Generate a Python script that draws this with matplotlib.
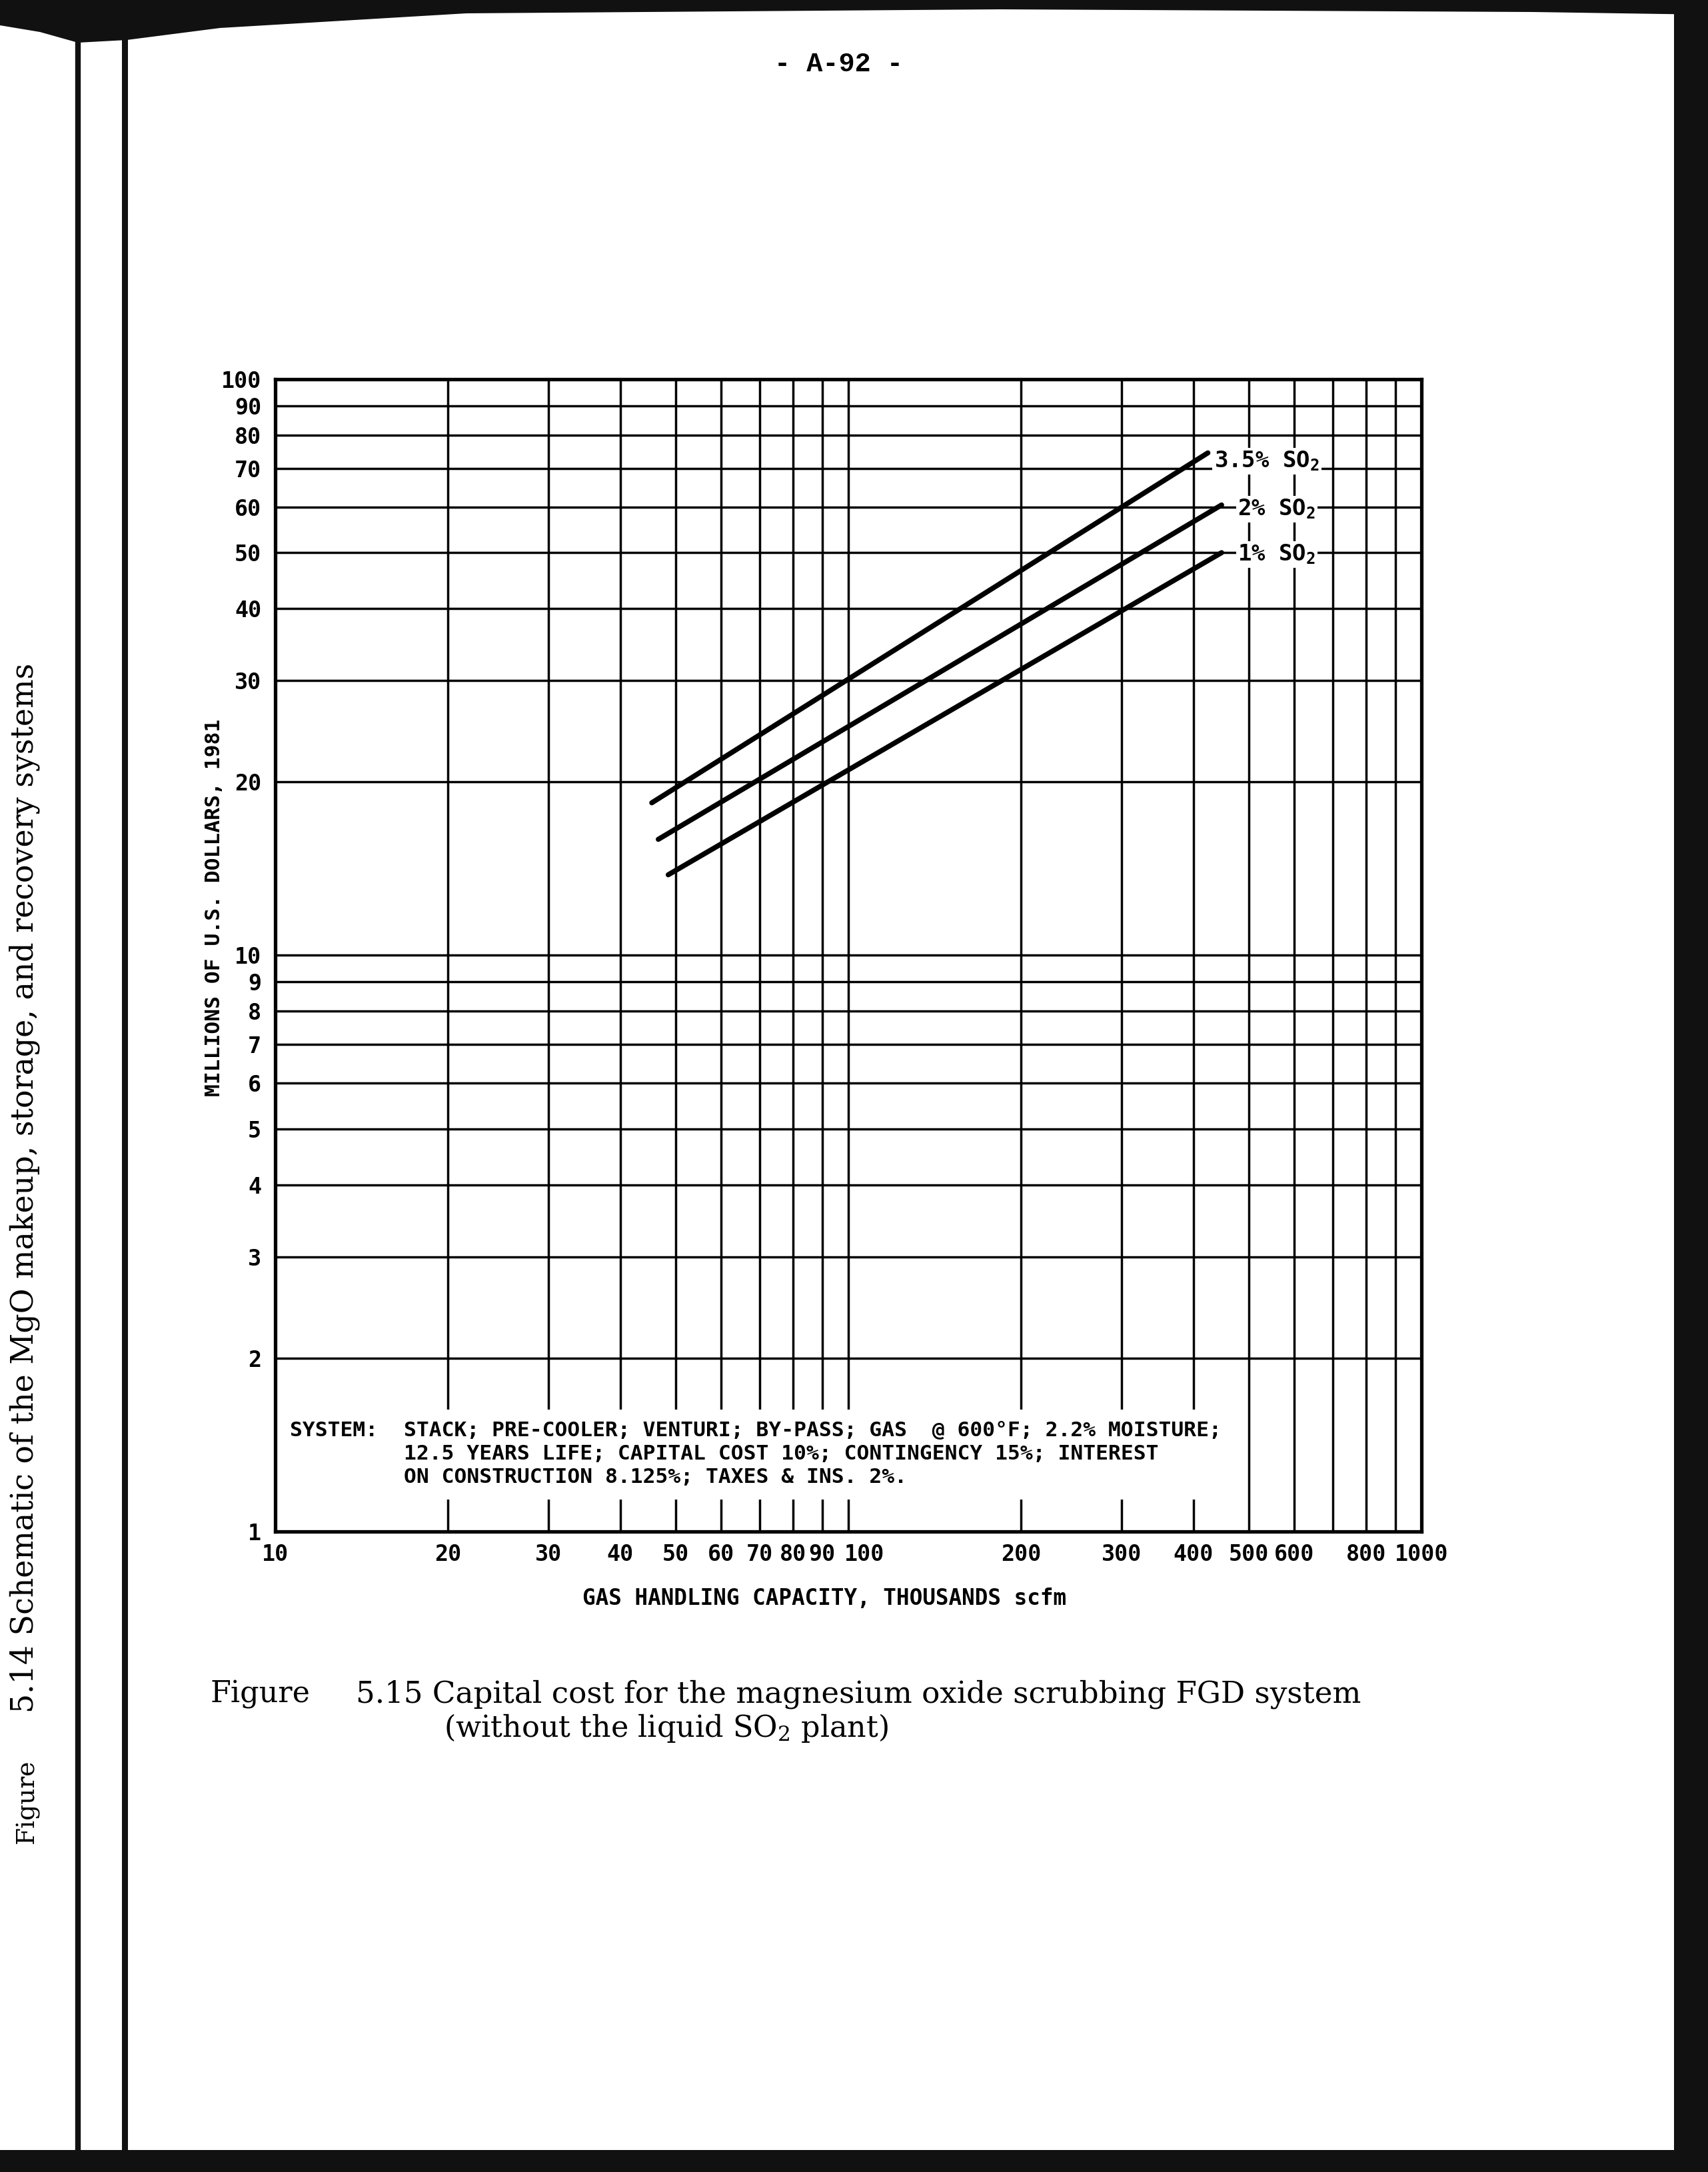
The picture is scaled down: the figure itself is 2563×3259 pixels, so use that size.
import numpy as np
import matplotlib
matplotlib.use('Agg')
import matplotlib.pyplot as plt
import matplotlib.transforms as mtransforms
from matplotlib.patches import Rectangle, Polygon
from matplotlib.lines import Line2D
from matplotlib.ticker import FixedLocator, FixedFormatter, NullFormatter

# Values
# gas handling capacity (thousand scfm) vs capital cost (million 1981 US$)
series_names = ['3.5% SO$_2$', '2% SO$_2$', '1% SO$_2$']
capacity_35 = [45.4, 424]
cost_35 = [18.4, 74.5]
capacity_20 = [46.6, 448]
cost_20 = [15.9, 60.5]
capacity_10 = [48.5, 448]
cost_10 = [13.8, 50.0]
label_levels = [70, 60, 50]

xtick_values = [10, 20, 30, 40, 50, 60, 70, 80, 90, 100, 200, 300, 400, 500, 600, 800, 1000]
xgrid_unlabelled = [700, 900]
ytick_values = [1, 2, 3, 4, 5, 6, 7, 8, 9, 10, 20, 30, 40, 50, 60, 70, 80, 90, 100]

system_lines = ['STACK; PRE-COOLER; VENTURI; BY-PASS; GAS  @ 600\u00b0F; 2.2% MOISTURE;',
                '12.5 YEARS LIFE; CAPITAL COST 10%; CONTINGENCY 15%; INTEREST',
                'ON CONSTRUCTION 8.125%; TAXES & INS. 2%.']

# the chart lettering is a fixed-pitch stencil, so a bold mono face fits it best
plt.rcParams['font.family'] = ['DejaVu Sans Mono', 'DejaVu Sans']
plt.rcParams['font.weight'] = 'bold'
plt.rcParams['mathtext.default'] = 'regular'
tick_size = 24
label_size = 24.5
title_size = 23.5
note_size = 22.5

W, H = 2563, 3259
fig = plt.figure(figsize=(W / 100, H / 100), dpi=100)
fig.patch.set_facecolor('white')


def fx(px):
    return px / W


def fy(py):
    return 1 - py / H


ax = fig.add_axes([fx(413), fy(2298), fx(2133) - fx(413), fy(569) - fy(2298)])
ax.set_xscale('log')
ax.set_yscale('log')
ax.set_xlim(10, 1000)
ax.set_ylim(1, 100)

ax.xaxis.set_major_locator(FixedLocator(xtick_values))
ax.xaxis.set_major_formatter(FixedFormatter([str(v) for v in xtick_values]))
ax.xaxis.set_minor_locator(FixedLocator(xgrid_unlabelled))
ax.xaxis.set_minor_formatter(NullFormatter())
ax.yaxis.set_major_locator(FixedLocator(ytick_values))
ax.yaxis.set_major_formatter(FixedFormatter([str(v) for v in ytick_values]))
ax.yaxis.set_minor_locator(FixedLocator([]))

ax.set_axisbelow(True)
ax.grid(True, which='both', color='black', linewidth=2.5)
ax.tick_params(which='both', length=0)
ax.tick_params(axis='y', pad=15, labelsize=tick_size)
ax.tick_params(axis='x', pad=13, labelsize=tick_size)
for sp in ax.spines.values():
    sp.set_linewidth(3.8)

# "100" is nudged right in the original so it clears "90"
tick100 = ax.xaxis.get_major_ticks()[xtick_values.index(100)]
tick100.label1.set_transform(tick100.label1.get_transform() +
                             mtransforms.ScaledTranslation(17 / 72, 0, fig.dpi_scale_trans))

# blank strip where the note sits on the grid
ax.add_patch(Rectangle((10, 1.136), 469 - 10, 1.628 - 1.136, facecolor='white',
                       edgecolor='none', zorder=1))

for caps, costs in [(capacity_35, cost_35), (capacity_20, cost_20), (capacity_10, cost_10)]:
    ax.plot(caps, costs, color='black', linewidth=5.5, solid_capstyle='round', zorder=3)

label_left = [435, 478, 478]
label_drop = [1, -9, -9]
for name, lvl, xl, dy in zip(series_names, label_levels, label_left, label_drop):
    ax.annotate(name, xy=(xl, lvl), xytext=(0, dy), textcoords='offset points',
                ha='left', va='baseline', fontsize=label_size, zorder=4,
                bbox=dict(facecolor='white', edgecolor='none', pad=2))

# axis titles and the note
fig.text(fx(1237), fy(2408), 'GAS HANDLING CAPACITY, THOUSANDS scfm', ha='center',
         va='baseline', fontsize=title_size)
fig.text(fx(330), fy(1362), 'MILLIONS OF U.S. DOLLARS, 1981', rotation=90,
         rotation_mode='anchor', ha='center', va='baseline', fontsize=note_size)
fig.text(fx(435), fy(2155), 'SYSTEM:', ha='left', va='baseline', fontsize=note_size)
for i, line in enumerate(system_lines):
    fig.text(fx(606), fy(2155 + 35 * i), line, ha='left', va='baseline', fontsize=note_size)

# page furniture
serif = dict(family='DejaVu Serif', weight='normal', va='baseline', ha='left')
fig.text(fx(316), fy(2554), 'Figure', fontsize=32, **serif)
fig.text(fx(534), fy(2554), '5.15 Capital cost for the magnesium oxide scrubbing FGD system',
         fontsize=32.6, **serif)
fig.text(fx(666), fy(2606), '(without the liquid SO$_2$ plant)', fontsize=32, **serif)

side = dict(family='DejaVu Serif', weight='normal', rotation=90,
            rotation_mode='anchor', va='baseline', ha='center')
fig.text(fx(50), fy(2703), 'Figure', fontsize=27, **side)
fig.text(fx(50), fy(1782), '5.14 Schematic of the MgO makeup, storage, and recovery systems',
         fontsize=33, **side)

fig.text(fx(1258), fy(96), '- A-92 -', family='Liberation Mono', weight='bold',
         fontsize=29, ha='center', va='center')

# scan edges and binding
dark = '#111111'
top_edge = [(0, 0), (W, 0), (W, 22), (2300, 18), (1500, 14), (700, 20), (330, 42),
            (190, 60), (117, 64), (60, 48), (0, 38)]
fig.add_artist(Polygon([(fx(a), fy(b)) for a, b in top_edge], closed=True,
                       transform=fig.transFigure, facecolor=dark, edgecolor='none'))
fig.add_artist(Rectangle((fx(2512), 0), 1 - fx(2512), 1, transform=fig.transFigure,
                         facecolor=dark, edgecolor='none'))
fig.add_artist(Rectangle((0, 0), 1, fy(3226), transform=fig.transFigure,
                         facecolor=dark, edgecolor='none'))
for bx, lw in [(117, 6.0), (187, 6.5)]:
    fig.add_artist(Line2D([fx(bx), fx(bx)], [fy(60), fy(3226)], transform=fig.transFigure,
                          color=dark, linewidth=lw))

fig.savefig('out.png', dpi=100)
